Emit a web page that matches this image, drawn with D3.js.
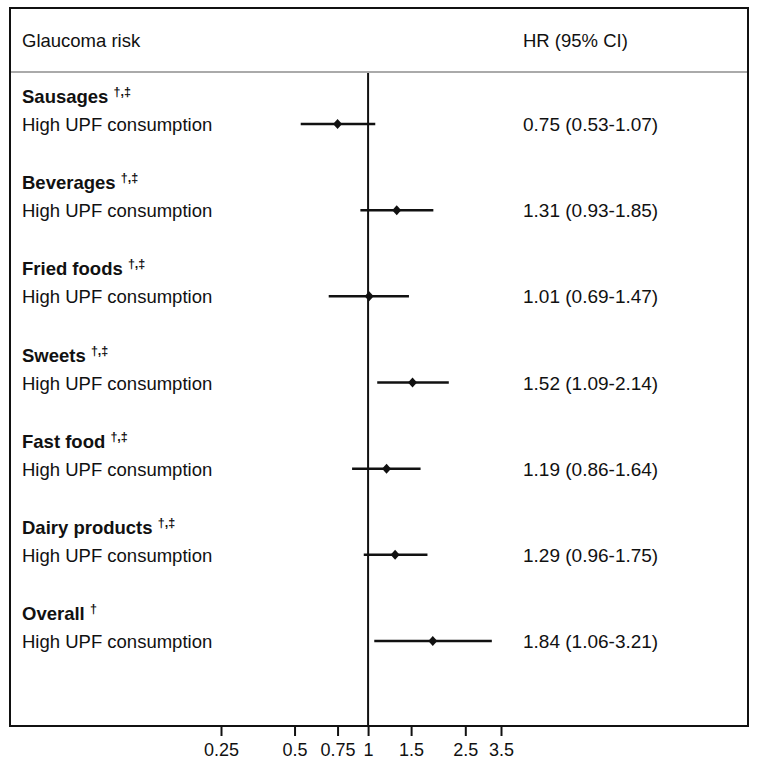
<!DOCTYPE html>
<html lang="en">
<head>
    <meta charset="UTF-8">
    <title>Glaucoma risk forest plot</title>
    <script src="https://d3js.org/d3.v7.min.js"></script>
    <style>
        body { margin: 0; background: #fff; }
        text { font-family: "Liberation Sans", Arial, Helvetica, sans-serif; fill: #111; }
        .hdr { font-weight: bold; }
    </style>
</head>
<body>
    <div id="chart"></div>

    <script>
        // data
        const groups = ['Sausages', 'Beverages', 'Fried foods', 'Sweets', 'Fast food', 'Dairy products', 'Overall'];
        const marks = ['†,‡', '†,‡', '†,‡', '†,‡', '†,‡', '†,‡', '†'];
        const hr = [0.75, 1.31, 1.01, 1.52, 1.19, 1.29, 1.84];
        const lower = [0.53, 0.93, 0.69, 1.09, 0.86, 0.96, 1.06];
        const upper = [1.07, 1.85, 1.47, 2.14, 1.64, 1.75, 3.21];
        const ticks = [0.25, 0.5, 0.75, 1, 1.5, 2.5, 3.5];

        const width = 758, height = 767;
        const box = { left: 10, right: 748, top: 8, bottom: 726, head: 72 };

        const svg = d3.select('#chart').append('svg')
            .attr('width', width)
            .attr('height', height);

        const x = d3.scaleLog().domain([0.25, 3.5]).range([221, 501]);
        const y = d3.scaleLinear().domain([0, groups.length - 1]).range([124, 641]);

        const fmt = d3.format('.2f');

        // frame
        svg.append('rect')
            .attr('x', box.left).attr('y', box.top)
            .attr('width', box.right - box.left).attr('height', box.bottom - box.top)
            .attr('fill', 'none').attr('stroke', '#111').attr('stroke-width', 2);

        svg.append('line')
            .attr('x1', box.left + 1).attr('x2', box.right - 1)
            .attr('y1', box.head).attr('y2', box.head)
            .attr('stroke', '#aaa').attr('stroke-width', 2);

        svg.append('text').attr('x', 22).attr('y', 47)
            .style('font-size', '18.5px').text('Glaucoma risk');
        svg.append('text').attr('x', 523).attr('y', 47)
            .style('font-size', '18.5px').text('HR (95% CI)');

        // reference line at 1
        svg.append('line')
            .attr('x1', x(1)).attr('x2', x(1))
            .attr('y1', box.head + 1).attr('y2', box.bottom)
            .attr('stroke', '#111').attr('stroke-width', 2);

        // x axis
        const axis = svg.append('g')
            .attr('transform', `translate(0,${box.bottom})`)
            .call(d3.axisBottom(x).tickValues(ticks).tickFormat(d => String(d)).tickSize(10).tickPadding(7));
        axis.select('.domain').remove();
        axis.selectAll('.tick line').attr('stroke', '#111').attr('stroke-width', 2);
        axis.selectAll('.tick text').style('font-size', '18px')
            .style('font-family', '"Liberation Sans", Arial, sans-serif').attr('fill', '#111');

        const rows = svg.append('g').selectAll('g')
            .data(groups)
            .join('g');

        const head = rows.append('text')
            .attr('class', 'hdr')
            .attr('x', 22)
            .attr('y', (d, i) => y(i) - 21)
            .style('font-size', '18.5px');
        head.append('tspan').text(d => d + ' ');
        head.append('tspan')
            .attr('dy', -7)
            .style('font-size', '12.5px')
            .text((d, i) => marks[i]);

        rows.append('text')
            .attr('x', 22)
            .attr('y', (d, i) => y(i) + 7)
            .style('font-size', '18.5px')
            .text('High UPF consumption');

        rows.append('line')
            .attr('x1', (d, i) => x(lower[i]))
            .attr('x2', (d, i) => x(upper[i]))
            .attr('y1', (d, i) => y(i))
            .attr('y2', (d, i) => y(i))
            .attr('stroke', '#111')
            .attr('stroke-width', 2.5);

        rows.append('path')
            .attr('d', 'M0,-5L4.5,0L0,5L-4.5,0Z')
            .attr('transform', (d, i) => `translate(${x(hr[i])},${y(i)})`)
            .attr('fill', '#111');

        rows.append('text')
            .attr('x', 523)
            .attr('y', (d, i) => y(i) + 7)
            .style('font-size', '19px')
            .text((d, i) => `${fmt(hr[i])} (${fmt(lower[i])}-${fmt(upper[i])})`);
    </script>
</body>
</html>
